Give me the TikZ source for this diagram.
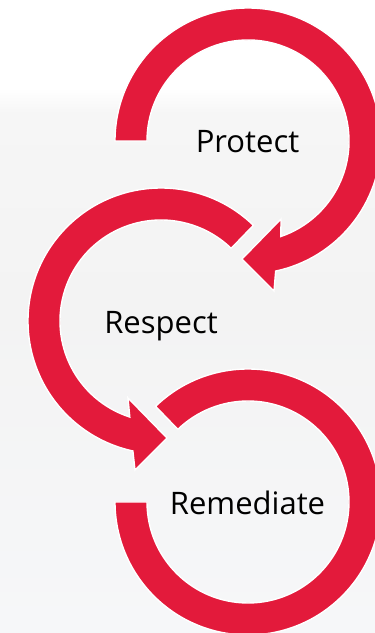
\documentclass[tikz,border=0pt]{standalone}
\usepackage{fontspec}
\setmainfont{Open Sans}
\usetikzlibrary{calc}
\definecolor{cyred}{RGB}{227,26,59}
\definecolor{bgA}{RGB}{255,255,255}
\definecolor{bgB}{RGB}{246,246,246}
\definecolor{bgC}{RGB}{243,243,243}
\definecolor{bgD}{RGB}{246,247,249}
\tikzset{
  ring/.style={fill=cyred, draw=white, line width=1.4pt, line join=miter},
  label/.style={anchor=base, text=black, font=\fontsize{31}{36}\selectfont, inner sep=0pt}
}
\begin{document}
\begin{tikzpicture}[x=1pt,y=1pt]
\useasboundingbox (0,0) rectangle (375,633);
\clip (0,0) rectangle (375,633);
% background
\fill[bgA] (0,0) rectangle (375,633);
\shade[top color=bgA, bottom color=bgB] (0,520) rectangle (375,545);
\shade[top color=bgB, bottom color=bgC] (0,330) rectangle (375,520);
\shade[top color=bgC, bottom color=bgD] (0,0) rectangle (375,330);
% centres
\coordinate (A) at (248,492);
\coordinate (B) at (161,312);
\coordinate (C) at (248,131);
% arc 1 (Protect)
\coordinate (a1) at (274,342);
\coordinate (a2) at (242,374);
\coordinate (a3) at (281,414);
\fill[ring] ($(A)+(180:133)$) arc[start angle=180, end angle=-78, radius=133]
  -- (a1) -- (a2) -- (a3) -- ($(A)+(-71:101)$)
  arc[start angle=-71, end angle=180, radius=101] -- cycle;
% arc 2 (Respect)
\coordinate (b1) at (135,163);
\coordinate (b2) at (167,195);
\coordinate (b3) at (128,235);
\fill[ring] ($(B)+(46:133)$) arc[start angle=46, end angle=257.8, radius=133]
  -- (b1) -- (b2) -- (b3) -- ($(B)+(252:101)$)
  arc[start angle=252, end angle=46, radius=101] -- cycle;
% arc 3 (Remediate)
\fill[ring] ($(C)+(134:133)$) arc[start angle=134, end angle=-180, radius=133]
  -- ($(C)+(-180:101)$) arc[start angle=-180, end angle=134, radius=101] -- cycle;
% labels
\node[label] (protect) at (247.5,480) {Protect};
\node[label] (respect) at (161,299) {Respect};
\node[label] (remediate) at (247.5,118) {Remediate};
\end{tikzpicture}
\end{document}
